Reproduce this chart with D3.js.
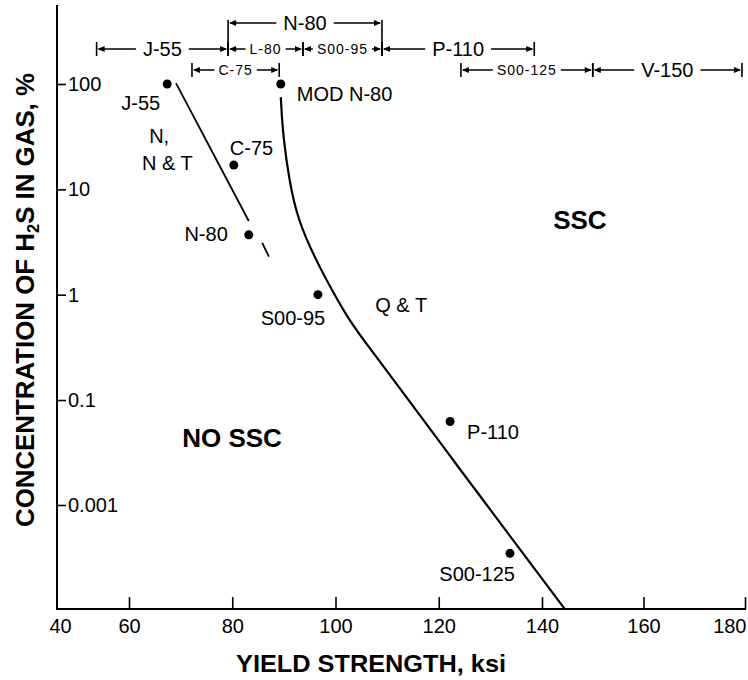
<!DOCTYPE html>
<html>
<head>
<meta charset="utf-8">
<script src="https://cdn.jsdelivr.net/npm/d3@7"></script>
<style>
  html, body { margin: 0; padding: 0; background: #fff; }
  svg { display: block; }
  text { font-family: "Liberation Sans", Arial, sans-serif; fill: #000; }
</style>
</head>
<body>
<svg id="chart" width="748" height="680"></svg>
<script>
// Yield strength axis (ksi)
const xTicks = [40, 60, 80, 100, 120, 140, 160, 180];
// H2S concentration axis (%) and the labels printed at each tick
const yTicks = [100, 10, 1, 0.1, 0.001];
const yTickLabels = ["100", "10", "1", "0.1", "0.001"];

// Casing grades: yield strength vs. H2S concentration
const gradeNames = ["J-55", "MOD N-80", "C-75", "N-80", "S00-95", "P-110", "S00-125"];
const gradeYield = [67.4, 89.4, 80.3, 83.2, 96.6, 122.2, 133.8];
const gradeH2S   = [100, 100, 17, 3.7, 1.0, 0.039, 0.00012];

// Boundary for normalized / normalized & tempered steels
const ntYield = [69.1, 83.2];
const ntH2S   = [102, 5.0];
const ntDashYield = [85.8, 87.1];
const ntDashH2S   = [3.1, 2.3];

// Boundary for quenched & tempered steels
const qtYield = [89.4, 89.6, 89.9, 91.0, 92.7, 96.2, 99.3, 102.6, 106.9, 112.3, 123.9, 134.4, 144.5];
const qtH2S   = [75, 50, 31.4, 12.3, 5.11, 2.13, 1.11, 0.574, 0.298, 0.133, 0.00507, 0.000215, 0.0000104];

// Yield-strength ranges of each grade (ksi)
const rangeNames = ["N-80", "J-55", "L-80", "S00-95", "P-110", "C-75", "S00-125", "V-150"];
const rangeLo    = [79.2, 51.0, 79.2, 93.7, 109.0, 72.2, 124.3, 150.0];
const rangeHi    = [109.0, 79.2, 93.7, 109.0, 138.5, 89.1, 150.0, 179.4];

// Region annotations (anchored in data coordinates)
const noteText  = ["N,", "N & T", "Q & T", "NO SSC", "SSC"];
const noteYield = [63.9, 62.5, 107.7, 70.3, 142.2];
const noteH2S   = [27.5, 15.3, 0.684, 0.0127, 4.2];

const svg = d3.select("#chart");
const plot = { left: 57, right: 746, top: 5, bottom: 609 };
const FONT = '"Liberation Sans", Arial, sans-serif';
const NARROW = '"Liberation Sans Narrow", "Liberation Sans", Arial, sans-serif';

const x = d3.scaleLinear().domain([40, 60, 140, 180]).range([57, 129, 542, 745]);
const y = d3.scaleLog().domain([100, 0.1, 0.001]).range([84, 400, 505]);

// Axis lines
svg.append("line")
  .attr("x1", plot.left).attr("x2", plot.left)
  .attr("y1", plot.top).attr("y2", plot.bottom)
  .attr("stroke", "#000").attr("stroke-width", 2);
svg.append("line")
  .attr("x1", plot.left - 1).attr("x2", plot.right)
  .attr("y1", plot.bottom).attr("y2", plot.bottom)
  .attr("stroke", "#000").attr("stroke-width", 2);

// X axis ticks and labels
const gx = svg.append("g")
  .attr("transform", `translate(0,${plot.bottom})`)
  .call(d3.axisBottom(x).tickValues(xTicks).tickSize(-12).tickPadding(10).tickFormat(d3.format("d")));
gx.select(".domain").remove();
gx.attr("font-size", 20).attr("font-family", FONT);
gx.selectAll(".tick line").attr("stroke", "#000").attr("stroke-width", 1.6);
gx.selectAll(".tick").filter(d => d === 40).select("line").remove();
gx.selectAll(".tick text").attr("fill", "#000");
// first label sits just right of the corner, last one ends at the frame edge
gx.selectAll(".tick").filter(d => d === 40).select("text").attr("dx", 3);
gx.selectAll(".tick").filter(d => d === 180).select("text").attr("text-anchor", "end").attr("dx", 1);

// Y axis ticks and labels
const gy = svg.append("g")
  .attr("transform", `translate(${plot.left},0)`)
  .call(d3.axisRight(y).tickValues(yTicks).tickSize(9).tickPadding(2)
    .tickFormat((d, i) => yTickLabels[i]));
gy.select(".domain").remove();
gy.attr("font-size", 20).attr("font-family", FONT);
gy.selectAll(".tick line").attr("stroke", "#000").attr("stroke-width", 1.6);
gy.selectAll(".tick text").attr("fill", "#000");

// Axis titles
svg.append("text")
  .attr("x", 371).attr("y", 672)
  .attr("text-anchor", "middle")
  .attr("font-family", NARROW).attr("font-weight", "bold").attr("font-size", 24)
  .attr("textLength", 270).attr("lengthAdjust", "spacingAndGlyphs")
  .text("YIELD STRENGTH, ksi");

const yTitle = svg.append("text")
  .attr("transform", "translate(34,300) rotate(-90)")
  .attr("text-anchor", "middle")
  .attr("font-family", NARROW).attr("font-weight", "bold").attr("font-size", 25)
  .attr("textLength", 454).attr("lengthAdjust", "spacingAndGlyphs");
yTitle.append("tspan").text("CONCENTRATION OF H");
yTitle.append("tspan").attr("font-size", 16).attr("dy", 5).text("2");
yTitle.append("tspan").attr("dy", -5).text("S IN GAS, %");

// Boundary lines
const straight = d3.line().x(d => x(d[0])).y(d => y(d[1]));
svg.append("path")
  .datum(d3.zip(ntYield, ntH2S))
  .attr("d", straight)
  .attr("fill", "none").attr("stroke", "#000").attr("stroke-width", 1.8);
svg.append("path")
  .datum(d3.zip(ntDashYield, ntDashH2S))
  .attr("d", straight)
  .attr("fill", "none").attr("stroke", "#000").attr("stroke-width", 1.8);

const smooth = d3.line().x(d => x(d[0])).y(d => y(d[1])).curve(d3.curveBasis);
svg.append("path")
  .datum(d3.zip(qtYield, qtH2S))
  .attr("d", smooth)
  .attr("fill", "none").attr("stroke", "#000").attr("stroke-width", 2.2);

// Grade points and their labels
const grades = d3.zip(gradeNames, gradeYield, gradeH2S);
svg.selectAll("circle.grade").data(grades).join("circle")
  .attr("class", "grade")
  .attr("cx", d => x(d[1])).attr("cy", d => y(d[2]))
  .attr("r", 4.5).attr("fill", "#000");

const gradeLabelOffset = {
  "J-55":     [-7, 26, "end"],
  "MOD N-80": [16, 17, "start"],
  "C-75":     [-4, -10, "start"],
  "N-80":     [-21, 6, "end"],
  "S00-95":   [-25, 30, "middle"],
  "P-110":    [17, 18, "start"],
  "S00-125":  [5, 28, "end"]
};
svg.selectAll("text.grade").data(grades).join("text")
  .attr("class", "grade")
  .attr("x", d => x(d[1]) + gradeLabelOffset[d[0]][0])
  .attr("y", d => y(d[2]) + gradeLabelOffset[d[0]][1])
  .attr("text-anchor", d => gradeLabelOffset[d[0]][2])
  .attr("font-size", 20)
  .text(d => d[0]);

// Region annotations
const boldNotes = new Set(["NO SSC", "SSC"]);
svg.selectAll("text.note").data(d3.zip(noteText, noteYield, noteH2S)).join("text")
  .attr("class", "note")
  .attr("x", d => x(d[1])).attr("y", d => y(d[2]))
  .attr("font-size", d => boldNotes.has(d[0]) ? 26 : 20)
  .attr("font-weight", d => boldNotes.has(d[0]) ? "bold" : "normal")
  .text(d => d[0]);

// Grade range brackets along the top
const rowY = [23, 49, 70];
const rangeRowOf = { "N-80": 0, "J-55": 1, "L-80": 1, "S00-95": 1, "P-110": 1, "C-75": 2, "S00-125": 2, "V-150": 2 };
const smallRange = new Set(["L-80", "S00-95", "C-75", "S00-125"]);
const gr = svg.append("g").attr("stroke", "#000").attr("fill", "#000");

d3.zip(rangeNames, rangeLo, rangeHi).forEach(([name, lo, hi]) => {
  const row = rangeRowOf[name];
  const small = smallRange.has(name);
  const cy = rowY[row];
  const x0 = x(lo), x1 = x(hi), cx = (x0 + x1) / 2;

  const t = gr.append("text")
    .attr("x", cx).attr("y", cy + (small ? 5 : 7))
    .attr("text-anchor", "middle")
    .attr("stroke", "none")
    .attr("font-size", small ? 14 : 20)
    .attr("letter-spacing", small ? 1 : 0)
    .text(name);
  const w = t.node().getComputedTextLength();
  const gap = small ? 4 : 7;

  // shafts
  gr.append("line").attr("x1", x0 + 2).attr("x2", cx - w / 2 - gap)
    .attr("y1", cy).attr("y2", cy).attr("stroke-width", 1.5);
  gr.append("line").attr("x1", cx + w / 2 + gap).attr("x2", x1 - 2)
    .attr("y1", cy).attr("y2", cy).attr("stroke-width", 1.5);
  // arrowheads pointing at the end bars
  gr.append("path").attr("stroke", "none")
    .attr("d", `M${x0 + 1},${cy} L${x0 + 8},${cy - 3} L${x0 + 8},${cy + 3} Z`);
  gr.append("path").attr("stroke", "none")
    .attr("d", `M${x1 - 1},${cy} L${x1 - 8},${cy - 3} L${x1 - 8},${cy + 3} Z`);
  // end bars
  const top = row === 0 ? cy - 3 : cy - 7;
  const bot = row === 0 ? rowY[1] + 6 : cy + 7;
  gr.append("line").attr("x1", x0).attr("x2", x0).attr("y1", top).attr("y2", bot).attr("stroke-width", 1.6);
  gr.append("line").attr("x1", x1).attr("x2", x1).attr("y1", top).attr("y2", bot).attr("stroke-width", 1.6);
});
</script>
</body>
</html>
